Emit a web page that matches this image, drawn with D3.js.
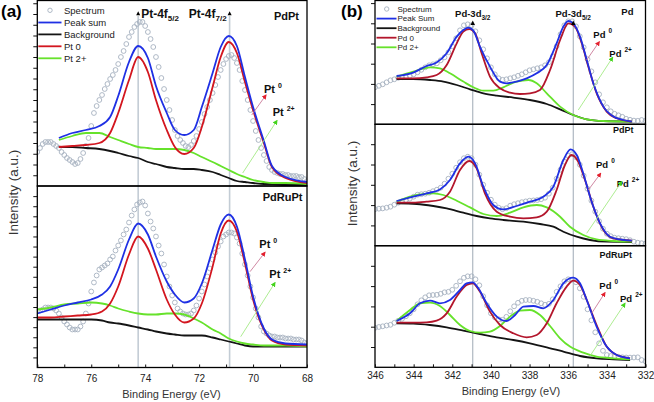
<!DOCTYPE html>
<html><head><meta charset="utf-8">
<script src="https://cdn.jsdelivr.net/npm/d3@7"></script>
<style>
body{margin:0;background:#fff}
svg{display:block}
text{font-family:"Liberation Sans",Arial,sans-serif}
</style></head><body>
<svg id="c" width="654" height="402"></svg>
<script>
// ---------------- DATA ----------------
// x tick labels
const aTickLabels = [78,76,74,72,70,68];
const bTickLabels = [346,344,342,340,338,336,334,332];
// peak reference energies
const aPeakE = [74.26, 70.87];
const bPeakE = [340.94, 335.74];
const aPeakNames = ["Pt-4f","Pt-4f"], aPeakSubs = ["5/2","7/2"];
const bPeakNames = ["Pd-3d","Pd-3d"], bPeakSubs = ["3/2","5/2"];
const aLegend = ["Spectrum","Peak sum","Background","Pt 0","Pt 2+"];
const bLegend = ["Spectrum","Peak Sum","Background","Pd 0","Pd 2+"];
const aSamples = ["PdPt","PdRuPt"];
const bSamples = ["Pd","PdPt","PdRuPt"];

// Panel (a) spectrum energies (0.1 eV grid 78 -> 68)
const aSpecE = d3.range(0,101).map(i => +(78 - i*0.1).toFixed(2));
const aTopSpec = [34,38,42,44,44,44,42,40,38,34, 31,28,26,24,22,23,27,33,40,48, 60,73,80,86,91,97,102,107,111,116,
 122,129,135,142,149,154,159,162,164,164, 160,154,147,139,129,119,108,97,86,76, 66,56,50,46,43,40,39,41,45,50,
 57,64,72,79,86,93,101,109,116,122, 127,130,131,128,123,116,105,96,86,76, 65,55,46,38,31,25,19,16,14,13,
 12,12,11,11,10,10,10,9,9,7,5];
const aBotSpec = [56,57,58,60,60,60,59,57,54,50, 46,43,40,38,38,38,41,46,54,64, 76,85,92,98,100,102,104,108,111,117,
 122,127,133,138,145,152,158,163,165,166, 162,154,146,139,131,122,114,103,91,81, 72,65,59,56,54,53,53,54,57,62,
 69,76,83,91,99,108,115,121,126,131, 133,135,135,134,130,124,114,103,92,81, 70,59,50,41,36,34,32,31,31,30,
 30,30,29,29,29,28,28,28,27,25,24];

// Panel (a) fitted curves
const aTopFitE = [77.2,76.7,76.2,75.7,75.3,75.0,74.6,74.26,73.9,73.6,73.2,72.9,72.55,72.2,71.9,71.5,71.2,70.9,70.6,70.3,70.0,69.6,69.3,68.8,68.0];
const aTopSum = [48,53,56,60,69,90,124,140,128,100,73,56,51,56,79,113,139,150,140,109,79,45,20,9,4];
const aTopPt0 = [39,40,41,43,53,73,106,129,114,86,56,39,32,38,59,99,129,144,133,104,76,43,19,8,3];
const aTopPt2 = [46,50,53,53,49,46,42,39,38,37,37,37,36,33,29,24,20,16,12,9,6,4,3,3,2];
const aTopBg  = [39,39,38,37,35,33,30,28,24,22,19,18,17,17,16,14,11,8,5,4,3,2,2,1,1];

const aBotFitE = [78.0,77.5,77.0,76.5,76.0,75.6,75.3,75.0,74.6,74.26,73.9,73.6,73.2,72.9,72.55,72.2,71.9,71.5,71.2,70.9,70.6,70.3,70.0,69.6,69.3,68.8,68.0];
const aBotSum = [54,58,62,65,68,73,81,98,128,144,133,111,86,73,65,69,84,118,143,153,141,108,71,39,28,24,23];
const aBotPt0 = [50,50,51,52,53,56,64,81,113,131,119,98,68,53,45,49,64,101,134,147,136,104,68,38,27,23,22];
const aBotPt2 = [58,60,63,64,65,64,62,59,56,54,53,53,54,54,53,49,45,38,34,29,26,24,23,22,22,22,21];
const aBotBg  = [48,48,48,48,48,47,45,44,42,40,38,36,34,33,32,32,32,30,28,26,24,22,21,21,21,21,21];

// Panel (b) spectrum energies (0.2 eV grid 346 -> 332)
const bSpecE = d3.range(0,71).map(i => +(346 - i*0.2).toFixed(2));
const b1Spec = [37,38.5,40,42,44,45,46.5,47,47.5,48.5, 50,52,54.5,57,59,60,61,64,67,72, 78,86,94,99,100,99,93,84,75,66,
 57,50,46,44.5,45,46,47,48.5,50,52, 54,55,56,57,59,62,68,78,90,99, 103,103,98,88,77,65,53,42,30,22,
 17,13,10.5,9,7.5,5.5,4.5,3.7,3.5,4.3, 3.5];
const b2Spec = [36.5,37,37.3,38,39,41,43,44.5,45.5,47, 49,51,51.5,52,53,54.5,56,58,62,67, 72,78,83.5,87.5,89,87.5,81,71,61,53,
 46,41,38,36.5,37.5,40,41.5,42.5,43.5,44.3, 45,45.3,45.7,46.5,48,52,58,67,76,84, 90,91.5,88.5,81,70,57,45,34,24.5,17,
 12,9.5,8,7.5,7,6.5,5.5,4,3,2.5, 2];
const b3Spec = [39.5,40.3,41,41.8,42.5,44.5,46.5,48.5,51,54, 58,63,67,70,72,72.3,72.5,73.5,75,75.5, 77.5,81.5,86,89.5,91,91,88,82,71,62,
 54,50,48,47.5,50.5,56,61,64.5,66.5,67.3, 67.3,66.5,65.5,64,62.5,63.5,68,75.5,81,86, 88,87.5,85,79,70.5,58,47,35,24,16.5,
 12.3,11.3,11,10.5,10,9.8,9.7,9.8,10,7.3, 6];

// Panel (b) fitted curves
const b1SumE = [344.88,344.02,343.33,342.81,342.29,341.77,341.43,341.17,340.91,340.57,340.05,339.53,339.19,338.67,338.15,337.63,337.11,336.60,336.25,335.99,335.74,335.39,335.04,334.70,334.18,333.66,333.15,332.71];
const b1Sum  = [48.3,51.7,58.3,61.7,71,87.7,94.3,96.7,93.7,77.7,57.7,42.7,41,42.7,46,51,59.3,81,97.7,103.3,101,87.7,64.3,41,17.7,7.7,4.3,2.7];
const b1Pd0E = [344.88,344.02,343.33,342.81,342.29,341.77,341.43,341.12,340.82,340.48,340.05,339.53,339.01,338.50,337.98,337.46,336.94,336.42,335.99,335.65,335.30,334.96,334.53,334.01,333.49,332.71];
const b1Pd0  = [46,46,47,49.3,59.3,81,92.7,95.3,91,71,47.7,36,31.7,30.3,31,34.3,54.3,84.3,101,97.7,81,57.7,31,12.7,6,2.7];
const b1Pd2E = [344.88,344.02,343.15,342.64,342.12,341.43,340.91,340.39,339.88,339.36,338.67,338.06,337.63,337.11,336.42,335.74,335.04,334.18,332.71];
const b1Pd2  = [47.7,52.7,57,56,51,42.7,37,33.7,33.7,37,42.7,44.3,41,31,17.7,9.3,5,3.3,2.7];
const b1BgE  = [344.88,344.02,343.15,342.46,341.77,341.08,340.39,339.70,338.84,337.98,337.11,336.42,335.74,335.04,334.18,332.71];
const b1Bg   = [45.3,45.3,44.3,42.7,39.3,35,31,28.7,26.7,24.3,20.3,15,9.3,5,3.3,2.7];

const b2SumE = [344.88,344.02,343.33,342.64,342.12,341.60,341.17,340.82,340.39,339.88,339.36,338.67,337.98,337.29,336.77,336.25,335.88,335.56,335.22,334.87,334.35,333.84,333.32,332.71];
const b2Sum  = [44.7,49,52.3,56.3,65.7,82.3,89,82.3,59,40.7,36.3,39.7,44,49,59,85.7,96.3,90.7,72.3,49,22.3,9,6.3,5];
const b2Pd0E = [344.88,344.02,343.33,342.64,342.12,341.60,341.12,340.74,340.31,339.70,339.01,338.32,337.63,337.11,336.60,336.17,335.83,335.48,335.13,334.70,334.18,333.66,332.71];
const b2Pd0  = [43,43,44,45.7,54,75.7,84.7,77.3,52.3,34,29,27.3,28.3,34,55.7,80.7,90.7,84,65.7,39,15.7,7.3,5];
const b2Pd2E = [344.88,343.84,342.98,342.46,341.77,341.08,340.39,339.70,339.01,338.32,337.63,337.11,336.42,335.91,335.22,334.53,333.66,332.71];
const b2Pd2  = [44,50.7,52.3,50.7,45,38.3,31.7,29.7,33,38.3,40.7,38.3,29,19,10.7,6.3,4.7,4];
const b2BgE  = [344.88,343.84,342.98,342.29,341.43,340.74,340.05,339.36,338.32,337.46,336.77,336.25,335.56,334.87,334.01,332.71];
const b2Bg   = [42.3,41.7,39.7,37.3,33,29.7,27.3,25.7,24,21.7,19,14,9,5.7,4,3.7];

const b3SumE = [344.88,344.19,343.67,343.15,342.64,342.12,341.60,341.26,340.94,340.65,340.22,339.70,339.19,338.75,338.32,337.80,337.29,336.77,336.25,335.74,335.39,335.04,334.53,334.01,333.49,332.80];
const b3Sum  = [46.3,54,64,66.7,64,67.3,77.3,84,85,79,64,50.7,46.3,52.3,60.7,61.3,59,67.3,84,89.7,84,67.3,40.7,20.7,12.3,9];
const b3Pd0E = [344.88,344.02,343.33,342.81,342.29,341.77,341.26,340.94,340.57,340.05,339.53,338.84,338.15,337.63,337.11,336.60,336.08,335.74,335.39,335.04,334.53,334.01,333.49,332.80];
const b3Pd0  = [44.7,44.7,45,46.7,54,70.7,82.3,84,75.7,55.7,42.3,34,30,32.3,44,64,80.7,86.7,82.3,67.3,42.3,20.7,12.3,9];
const b3Pd2E = [344.88,344.19,343.67,343.15,342.64,342.12,341.60,341.08,340.57,340.05,339.53,339.01,338.50,337.98,337.46,336.94,336.42,335.91,335.22,334.53,333.66,332.80];
const b3Pd2  = [46.3,57.3,64,64.7,61.3,52.3,42.3,36.3,34.7,35.7,41.3,50.7,56.7,57.3,52.3,41.3,29,20.7,14.7,10.7,9,8];
const b3BgE  = [344.88,344.02,343.15,342.29,341.43,340.57,339.70,338.84,337.98,337.11,336.25,335.39,334.53,333.66,332.80];
const b3Bg   = [44,43.7,42.3,40,36.7,33.3,30,27.3,24,20,15.7,11.3,9,8,7.3];

// ---------------- STYLE / LAYOUT ----------------
const C = {blue:"#1f30e4", redA:"#d3161f", redB:"#b3162c", green:"#66e22b", black:"#141414", spec:"#a6b1bf"};
const svg = d3.select("#c");
const zip = (a,b) => a.map((v,i) => [v,b[i]]);

const xA = d3.scaleLinear().domain([78,68]).range([37.3,307]);
const xB = d3.scaleLinear().domain([346,332]).range([375,645.5]);

const subs = [
 {id:"a1", x:xA, top:0.5, bot:186, tick:10.75, spec:[aSpecE,aTopSpec],
  fits:[[aTopFitE,aTopBg,C.black],[aTopFitE,aTopPt2,C.green],[aTopFitE,aTopPt0,C.redA],[aTopFitE,aTopSum,C.blue]]},
 {id:"a2", x:xA, top:186, bot:367.5, tick:10.08, spec:[aSpecE,aBotSpec],
  fits:[[aBotFitE,aBotBg,C.black],[aBotFitE,aBotPt2,C.green],[aBotFitE,aBotPt0,C.redA],[aBotFitE,aBotSum,C.blue]]},
 {id:"b1", x:xB, top:0.5, bot:124.3, tick:20.2, spec:[bSpecE,b1Spec],
  fits:[[b1BgE,b1Bg,C.black],[b1Pd2E,b1Pd2,C.green],[b1Pd0E,b1Pd0,C.redB],[b1SumE,b1Sum,C.blue]]},
 {id:"b2", x:xB, top:124.3, bot:245.7, tick:20.3, spec:[bSpecE,b2Spec],
  fits:[[b2BgE,b2Bg,C.black],[b2Pd2E,b2Pd2,C.green],[b2Pd0E,b2Pd0,C.redB],[b2SumE,b2Sum,C.blue]]},
 {id:"b3", x:xB, top:245.7, bot:367.3, tick:20.3, spec:[bSpecE,b3Spec],
  fits:[[b3BgE,b3Bg,C.black],[b3Pd2E,b3Pd2,C.green],[b3Pd0E,b3Pd0,C.redB],[b3SumE,b3Sum,C.blue]]}
];

const defs = svg.append("defs");
function marker(id,col){
  defs.append("marker").attr("id",id).attr("viewBox","0 0 10 10").attr("refX",8).attr("refY",5)
   .attr("markerWidth",5).attr("markerHeight",5).attr("orient","auto").attr("markerUnits","userSpaceOnUse")
   .append("path").attr("d","M0,0L10,5L0,10z").attr("fill",col);
}
marker("hr","#e3202e"); marker("hg","#44d41c");

// vertical peak reference lines (behind)
function vlines(x, E, y0, y1, col, w){
  svg.append("g").selectAll("line").data(E).join("line")
    .attr("x1",d=>x(d)).attr("x2",d=>x(d)).attr("y1",y0).attr("y2",y1)
    .attr("stroke",col).attr("stroke-width",w);
}
vlines(xA, aPeakE, 16, 367.5, "#c3ccd5", 1.6);
vlines(xB, bPeakE, 25, 367.3, "#9ea9b5", 1);

subs.forEach(s => {
  const y = d3.scaleLinear().domain([0, s.bot - s.top]).range([s.bot, s.top]);
  const [x0,x1] = s.x.range();
  defs.append("clipPath").attr("id","cp"+s.id).append("rect")
    .attr("x",x0).attr("y",s.top).attr("width",x1-x0).attr("height",s.bot-s.top);
  const g = svg.append("g").attr("clip-path",`url(#cp${s.id})`);
  g.append("g").selectAll("circle").data(zip(s.spec[0],s.spec[1])).join("circle")
    .attr("cx",d=>s.x(d[0])).attr("cy",d=>y(d[1])).attr("r",2.4)
    .attr("fill","none").attr("stroke",C.spec).attr("stroke-width",0.9);
  const ln = d3.line().x(d=>s.x(d[0])).y(d=>y(d[1])).curve(d3.curveMonotoneX);
  s.fits.forEach(f => {
    g.append("path").attr("d",ln(zip(f[0],f[1]))).attr("fill","none")
     .attr("stroke",f[2]).attr("stroke-width",1.8).attr("stroke-linejoin","round");
  });
  // left minor ticks
  const ax = svg.append("g").attr("transform",`translate(${x0},0)`)
    .call(d3.axisLeft(y).tickValues(d3.range(s.tick, s.bot - s.top - 1, s.tick)).tickSize(4).tickFormat(""));
  ax.select(".domain").remove();
  ax.selectAll("line").attr("stroke","#111").attr("stroke-width",1);
  // frame
  svg.append("rect").attr("x",x0).attr("y",s.top).attr("width",x1-x0).attr("height",s.bot-s.top)
    .attr("fill","none").attr("stroke","#000").attr("stroke-width",1.3);
});

// bottom axes
function xaxis(x, yPos, pad){
  const lo = d3.min(x.domain()), hi = d3.max(x.domain());
  const g = svg.append("g").attr("transform",`translate(0,${yPos})`)
    .call(d3.axisBottom(x).tickValues(d3.range(lo,hi+1,1)).tickSize(-3).tickPadding(pad)
      .tickFormat(d => d%2===0 ? d : ""));
  g.select(".domain").remove();
  g.selectAll("line").attr("stroke","#111");
  g.selectAll("text").attr("font-size",10).attr("fill","#222")
    .attr("font-family",'"Liberation Sans",Arial,sans-serif');
}
xaxis(xA, 367.5, 7);
xaxis(xB, 367.3, 5);

// axis titles
svg.append("text").attr("x",171.5).attr("y",397.5).attr("text-anchor","middle")
  .attr("font-size",11).attr("fill","#333").text("Binding Energy (eV)");
svg.append("text").attr("x",511).attr("y",394.5).attr("text-anchor","middle")
  .attr("font-size",11).attr("fill","#333").text("Binding Energy (eV)");
svg.append("text").attr("transform","translate(18,192.5) rotate(-90)").attr("text-anchor","middle")
  .attr("font-size",13.5).attr("fill","#333").text("Intensity (a.u.)");
svg.append("text").attr("transform","translate(357,183.5) rotate(-90)").attr("text-anchor","middle")
  .attr("font-size",13.5).attr("fill","#333").text("Intensity (a.u.)");

// panel letters
svg.append("text").attr("x",1).attr("y",17).attr("font-size",17).attr("font-weight","bold").text("(a)");
svg.append("text").attr("x",341).attr("y",17).attr("font-size",17).attr("font-weight","bold").text("(b)");

// legends
function legend(x0, xl1, xc, xt, ys, names, red, fs){
  const cols = [null, C.blue, C.black, red, C.green];
  names.forEach((n,i) => {
    if(i===0) svg.append("circle").attr("cx",xc).attr("cy",ys[i]).attr("r",2.2)
      .attr("fill","none").attr("stroke",C.spec).attr("stroke-width",0.9);
    else svg.append("line").attr("x1",x0).attr("x2",xl1).attr("y1",ys[i]).attr("y2",ys[i])
      .attr("stroke",cols[i]).attr("stroke-width",1.8);
    svg.append("text").attr("x",xt).attr("y",ys[i]+fs*0.36).attr("font-size",fs).attr("fill","#222").text(n);
  });
}
legend(38.3, 61.5, 50, 64, [10.3,22.5,34.4,46.3,58.3], aLegend, C.redA, 9.5);
legend(376.5, 396.5, 386.7, 397.5, [9,18.6,28.2,37.7,47.3], bLegend, C.redB, 8);

// peak labels with triangles
function tri(x,y,s){ svg.append("path").attr("d",`M${x-s/2},${y+s*0.45}L${x},${y-s*0.55}L${x+s/2},${y+s*0.45}z`).attr("fill","#000"); }
aPeakE.forEach(e => tri(xA(e), 13.5, 4));
bPeakE.forEach(e => tri(xB(e), 23, 4.5));
function peakLabel(x,y,anchor,name,sub,fs,sfs){
  const t = svg.append("text").attr("x",x).attr("y",y).attr("text-anchor",anchor)
    .attr("font-size",fs).attr("font-weight","bold").attr("fill","#111");
  t.append("tspan").text(name);
  t.append("tspan").attr("font-size",sfs).attr("dy",3).text(sub);
}
peakLabel(xA(aPeakE[0])+3, 18.3, "start", aPeakNames[0], aPeakSubs[0], 12, 8);
peakLabel(xA(aPeakE[1])-3, 18.3, "end", aPeakNames[1], aPeakSubs[1], 12, 8);
peakLabel(xB(bPeakE[0]), 17, "middle", bPeakNames[0], bPeakSubs[0], 9.5, 6.5);
peakLabel(xB(bPeakE[1]), 17, "middle", bPeakNames[1], bPeakSubs[1], 9.5, 6.5);

// sample names
function bold(x,y,txt,fs,anchor){ svg.append("text").attr("x",x).attr("y",y).attr("font-size",fs)
  .attr("font-weight","bold").attr("text-anchor",anchor||"end").attr("fill","#111").text(txt); }
bold(299, 20, aSamples[0], 11);
bold(302.5, 200.7, aSamples[1], 11);
bold(633.5, 15, bSamples[0], 9.5);
bold(633.5, 133.3, bSamples[1], 9);
bold(632, 258, bSamples[2], 9);

// oxidation-state labels + arrows
function ox(x,y,base,sup,fs,sfs){
  const t = svg.append("text").attr("x",x).attr("y",y).attr("font-size",fs).attr("font-weight","bold").attr("fill","#111");
  t.append("tspan").text(base);
  t.append("tspan").attr("font-size",sfs).attr("dx",3).attr("dy",-5).text(sup);
}
function arrow(x1,y1,x2,y2,col,head){
  svg.append("line").attr("x1",x1).attr("y1",y1).attr("x2",x2).attr("y2",y2)
    .attr("stroke",col).attr("stroke-width",0.9).attr("marker-end",`url(#${head})`);
}
const oxA = [["Pt","0"],["Pt","2+"]], oxB = [["Pd","0"],["Pd","2+"]];
// panel a
ox(264,92.5,oxA[0][0],oxA[0][1],11,7); ox(272.7,116,oxA[1][0],oxA[1][1],11,7);
arrow(251.7,115,266,95,"#c97b98","hr"); arrow(242.7,173,277,120.5,"#a4ea84","hg");
ox(259.3,247.5,oxA[0][0],oxA[0][1],11,7); ox(269.3,278.3,oxA[1][0],oxA[1][1],11,7);
arrow(250,271.7,265,252.3,"#c97b98","hr"); arrow(240.7,336.7,275,282.7,"#a4ea84","hg");
// panel b
ox(593.3,38.3,oxB[0][0],oxB[0][1],9.5,6.5); ox(609.3,56.7,oxB[1][0],oxB[1][1],9.5,6.5);
arrow(586.7,60,599.3,41.7,"#c97b98","hr"); arrow(578.3,110,612.7,57.3,"#a4ea84","hg");
ox(596,168.3,oxB[0][0],oxB[0][1],9.5,6.5); ox(616.7,186.7,oxB[1][0],oxB[1][1],9.5,6.5);
arrow(588.3,190,600.7,173.3,"#c97b98","hr"); arrow(586.7,233.3,621.7,181.7,"#a4ea84","hg");
ox(599.3,289.3,oxB[0][0],oxB[0][1],9.5,6.5); ox(620,301.7,oxB[1][0],oxB[1][1],9.5,6.5);
arrow(591.7,313.3,605,292.7,"#c97b98","hr"); arrow(590,356,625,303.3,"#a4ea84","hg");
</script>
</body></html>
